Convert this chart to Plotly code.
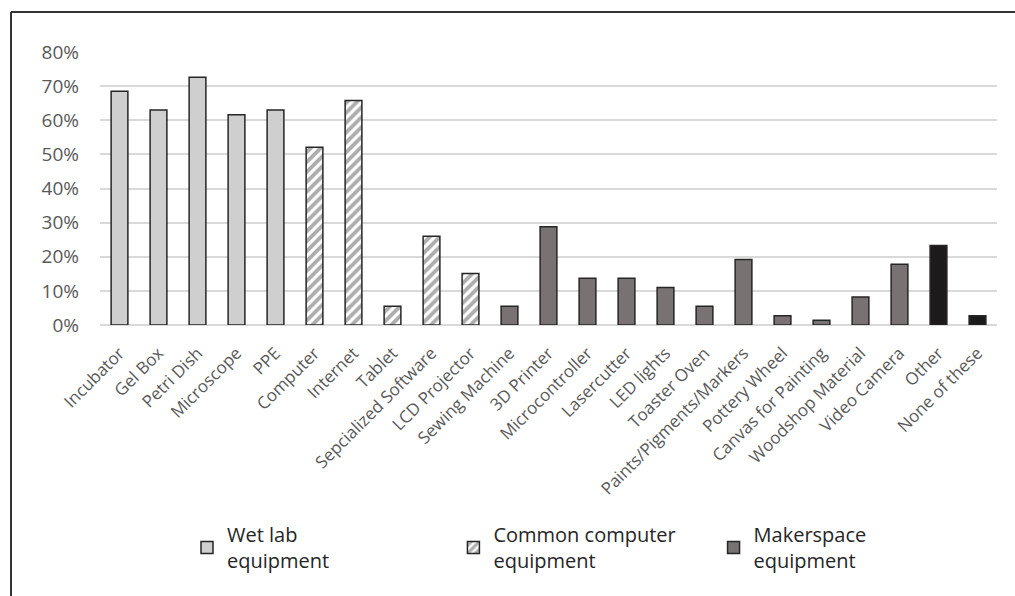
import plotly.graph_objects as go

# Share of respondents (%) reporting each kind of equipment
wet_lab = ["Incubator", "Gel Box", "Petri Dish", "Microscope", "PPE"]
wet_lab_pct = [68.5, 63.0, 72.6, 61.6, 63.0]

computer = ["Computer", "Internet", "Tablet", "Sepcialized Software", "LCD Projector"]
computer_pct = [52.1, 65.8, 5.5, 26.0, 15.1]

makerspace = ["Sewing Machine", "3D Printer", "Microcontroller", "Lasercutter",
              "LED lights", "Toaster Oven", "Paints/Pigments/Markers", "Pottery Wheel",
              "Canvas for Painting", "Woodshop Material", "Video Camera"]
makerspace_pct = [5.5, 28.8, 13.7, 13.7, 11.0, 5.5, 19.2, 2.7, 1.4, 8.2, 17.8]

other = ["Other", "None of these"]
other_pct = [23.3, 2.7]

categories = wet_lab + computer + makerspace + other
y_ticks = [0, 10, 20, 30, 40, 50, 60, 70, 80]
y_tick_labels = [f"{v}%" for v in y_ticks]

FONT = "Open Sans"
OUTLINE = dict(color="#262626", width=1.5)
BAR_W = 0.43

fig = go.Figure()
fig.add_trace(go.Bar(
    x=wet_lab, y=wet_lab_pct, name="Wet lab<br>equipment", width=BAR_W,
    marker=dict(color="#d0cfcf", line=OUTLINE), legend="legend",
))
fig.add_trace(go.Bar(
    x=computer, y=computer_pct, name="Common computer<br>equipment", width=BAR_W,
    marker=dict(color="white", line=OUTLINE,
                pattern=dict(shape="/", fgcolor="#5c5a5a", bgcolor="white",
                             size=7, solidity=0.55)),
    legend="legend2",
))
fig.add_trace(go.Bar(
    x=makerspace, y=makerspace_pct, name="Makerspace<br>equipment", width=BAR_W,
    marker=dict(color="#797272", line=OUTLINE), legend="legend3",
))
fig.add_trace(go.Bar(
    x=other, y=other_pct, name="Other", width=BAR_W, showlegend=False,
    marker=dict(color="#1c1a1a", line=OUTLINE),
))

legend_common = dict(
    orientation="v", yanchor="middle", y=-0.815, xanchor="left",
    font=dict(family=FONT, size=20, color="#262626"),
    bgcolor="rgba(0,0,0,0)", borderwidth=0,
)

# Frame drawn along the top and left edges of the figure
frame = [
    dict(type="line", xref="paper", yref="paper",
         x0=(11 - 100) / 897, x1=(1015 - 100) / 897,
         y0=(325 - 12) / 273, y1=(325 - 12) / 273,
         line=dict(color="#333333", width=2)),
    dict(type="line", xref="paper", yref="paper",
         x0=(11 - 100) / 897, x1=(11 - 100) / 897,
         y0=(325 - 12) / 273, y1=(325 - 600) / 273,
         line=dict(color="#333333", width=2)),
]

fig.update_layout(
    width=1015, height=596,
    margin=dict(l=100, r=18, t=52, b=271, autoexpand=False),
    paper_bgcolor="white", plot_bgcolor="white",
    barmode="overlay",
    font=dict(family=FONT, color="#595959"),
    legend=dict(x=0.097, **legend_common),
    legend2=dict(x=0.394, **legend_common),
    legend3=dict(x=0.684, **legend_common),
    shapes=frame,
    xaxis=dict(
        categoryorder="array", categoryarray=categories,
        tickangle=-45, tickfont=dict(family=FONT, size=17, color="#595959"),
        ticklabelstandoff=14,
        showgrid=False, showline=False, ticks="", automargin=False,
        range=[-0.5, len(categories) - 0.5],
    ),
    yaxis=dict(
        range=[0, 80], tickvals=y_ticks, ticktext=y_tick_labels,
        tickfont=dict(family=FONT, size=19, color="#595959"),
        ticklabelstandoff=20,
        showgrid=True, gridcolor="#d9d9d9", gridwidth=1.5,
        zeroline=True, zerolinecolor="#d9d9d9", zerolinewidth=1.5,
        showline=False, ticks="", ticklen=0, automargin=False,
    ),
)

fig.write_html("out.html")
